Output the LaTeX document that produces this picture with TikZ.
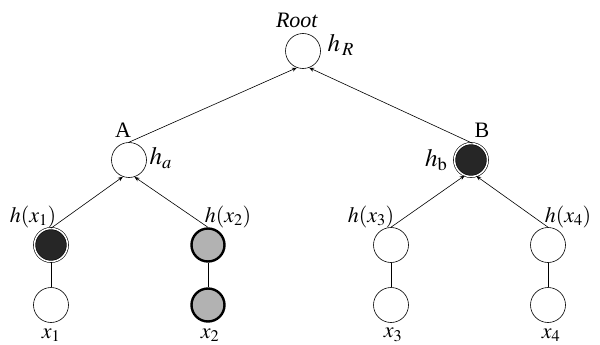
\documentclass[tikz,border=0pt]{standalone}
\usepackage{mathptmx}
\usepackage{fontspec}
\setmainfont{Liberation Serif}
\usetikzlibrary{arrows.meta}

\begin{document}
\begin{tikzpicture}[x=1pt, y=-1pt,
  every node/.style={font=\fontsize{22}{26}\selectfont},
  biglab/.style={font=\fontsize{25}{30}\selectfont},
  emptynode/.style={circle, draw, line width=0.6pt, minimum size=35pt, inner sep=0pt},
  darknode/.style={circle, draw, fill=black!85, double=white, double distance=1.5pt, line width=0.6pt, minimum size=33pt, inner sep=0pt},
  greynode/.style={circle, draw, fill=black!30, line width=2.4pt, minimum size=33pt, inner sep=0pt},
  uplink/.style={line width=0.6pt, -{Stealth[length=5pt,width=4pt]}},
  tie/.style={line width=0.6pt}]
  \useasboundingbox (0,0) rectangle (600,345);

  % Les noeuds
  \node[emptynode] (root) at (303,51) {};
  \node[emptynode] (a) at (129,160) {};
  \node[darknode] (b) at (471,160) {};
  \node[darknode] (hx1) at (51,245) {};
  \node[greynode] (hx2) at (208,245) {};
  \node[emptynode] (hx3) at (391,245) {};
  \node[emptynode] (hx4) at (548,245) {};
  \node[emptynode] (x1) at (51,305) {};
  \node[greynode] (x2) at (208,305) {};
  \node[emptynode] (x3) at (391,305) {};
  \node[emptynode] (x4) at (548,305) {};

  % Les fleches
  \draw[uplink] (a.north) -- (root.-110);
  \draw[uplink] (b.85) -- (root.-70);
  \draw[uplink] (hx1.north) -- (a.-110);
  \draw[uplink] (hx2.north) -- (a.-72);
  \draw[uplink] (hx3.north) -- (b.-112);
  \draw[uplink] (hx4.north) -- (b.-72);
  \draw[tie] (hx1) -- (x1);
  \draw[tie] (hx2) -- (x2);
  \draw[tie] (hx3) -- (x3);
  \draw[tie] (hx4) -- (x4);

  % Les lettres
  \node (rootlab) at (297,20) {\textit{Root}};
  \node[biglab, anchor=west] (hr) at (324,45) {$h_{\,R}$};
  \node (alab) at (123,130) {A};
  \node[biglab, anchor=west] (ha) at (146,158) {$h_a$};
  \node (blab) at (482,130) {B};
  \node[biglab, anchor=east] (hb) at (451,160) {$h_{\mathrm{b}}$};
  \node (hx1lab) at (33,217) {$h(x_1)$};
  \node (hx2lab) at (228,217) {$h(x_2)$};
  \node (hx3lab) at (371,217) {$h(x_3)$};
  \node (hx4lab) at (568,217) {$h(x_4)$};
  \node (x1lab) at (51,335) {$x_1$};
  \node (x2lab) at (210,335) {$x_2$};
  \node (x3lab) at (393,335) {$x_3$};
  \node (x4lab) at (551,335) {$x_4$};
\end{tikzpicture}
\end{document}
